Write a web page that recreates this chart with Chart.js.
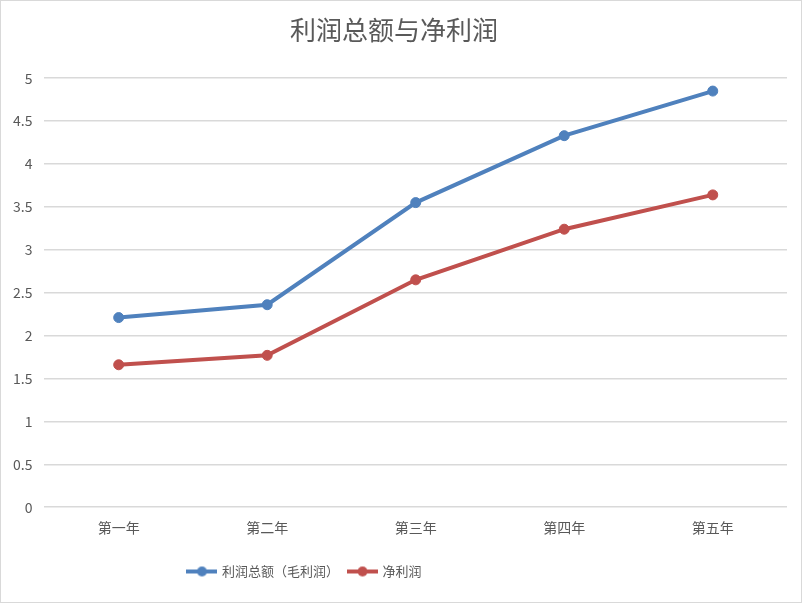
<!DOCTYPE html>
<html>
<head>
<meta charset="utf-8">
<script src="https://cdn.jsdelivr.net/npm/chart.js@4/dist/chart.umd.min.js"></script>
<style>
    html, body { margin: 0; padding: 0; background: #fff; }
    #wrap { width: 800px; height: 601px; border: 1px solid #d9d9d9; }
</style>
</head>
<body>
<div id="wrap"><canvas id="profitChart" width="800" height="601"></canvas></div>
<script>
const years = ['第一年', '第二年', '第三年', '第四年', '第五年'];
const grossProfit = [2.21, 2.36, 3.55, 4.33, 4.85];
const netProfit = [1.66, 1.77, 2.65, 3.24, 3.64];

const FONT = '"Noto Sans CJK SC", "DejaVu Sans", sans-serif';
const TXT = '#595959';

// маркер для легенды: линия с точкой
function legendMark(color) {
    const c = document.createElement('canvas');
    c.width = 31; c.height = 12;
    const g = c.getContext('2d');
    g.strokeStyle = color;
    g.lineWidth = 4;
    g.beginPath(); g.moveTo(0, 6); g.lineTo(31, 6); g.stroke();
    g.fillStyle = color;
    g.beginPath(); g.arc(15.5, 6, 5, 0, Math.PI * 2); g.fill();
    return c;
}

// легенда в Excel смещена влево от центра
const legendShift = {
    id: 'legendShift',
    afterLayout(chart) {
        chart.legend.right -= 178;
    }
};

const ctx = document.getElementById('profitChart').getContext('2d');
const profitChart = new Chart(ctx, {
    type: 'line',
    data: {
        labels: years,
        datasets: [
            {
                label: '利润总额（毛利润）',
                data: grossProfit,
                borderColor: '#4f81bd',
                backgroundColor: '#4f81bd',
                borderWidth: 4,
                pointRadius: 5,
                pointBorderWidth: 1,
                pointHoverRadius: 5,
                tension: 0
            },
            {
                label: '净利润',
                data: netProfit,
                borderColor: '#c0504d',
                backgroundColor: '#c0504d',
                borderWidth: 4,
                pointRadius: 5,
                pointBorderWidth: 1,
                pointHoverRadius: 5,
                tension: 0
            }
        ]
    },
    options: {
        responsive: false,
        animation: false,
        layout: { padding: { left: 0, right: 14, top: 6, bottom: 14 } },
        plugins: {
            title: {
                display: true,
                text: '利润总额与净利润',
                color: TXT,
                font: { family: FONT, size: 26, weight: 'normal' },
                padding: { top: 8, bottom: 32 }
            },
            legend: {
                position: 'bottom',
                labels: {
                    color: TXT,
                    font: { family: FONT, size: 13 },
                    usePointStyle: true,
                    pointStyleWidth: 27,
                    padding: 10,
                    generateLabels: (chart) => chart.data.datasets.map((ds, i) => ({
                        text: ds.label,
                        fontColor: TXT,
                        pointStyle: legendMark(ds.borderColor),
                        datasetIndex: i,
                        lineWidth: 0,
                        hidden: false
                    }))
                }
            },
            tooltip: { enabled: false }
        },
        scales: {
            x: {
                offset: true,
                grid: { display: false },
                border: { display: false },
                ticks: { color: TXT, font: { family: FONT, size: 14 }, padding: 4 },
                afterFit: (axis) => { axis.height += 15; }
            },
            y: {
                min: 0,
                max: 5,
                ticks: {
                    stepSize: 0.5,
                    color: TXT,
                    font: { family: FONT, size: 14 },
                    padding: 12,
                    callback: (v) => String(v)
                },
                grid: { color: '#d9d9d9', lineWidth: 1.5, drawTicks: false },
                border: { display: false }
            }
        }
    },
    plugins: [legendShift]
});
</script>
</body>
</html>
